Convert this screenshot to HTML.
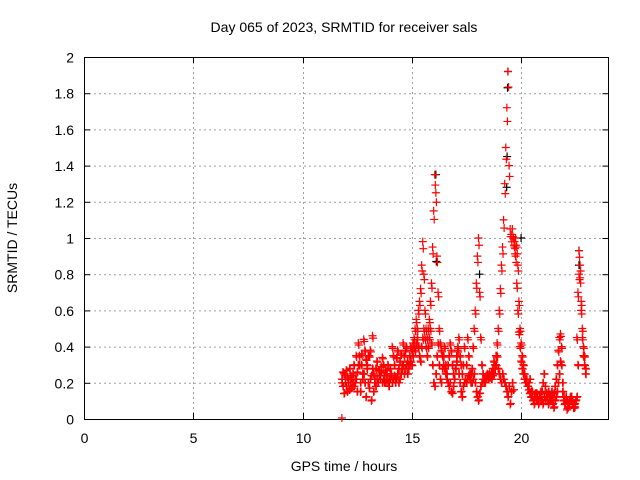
<!DOCTYPE html>
<html><head><meta charset="utf-8"><style>
body{margin:0;background:#fff;}
svg{display:block;font-family:"Liberation Sans",sans-serif;}
</style></head><body>
<svg id="chart" width="640" height="480" viewBox="0 0 640 480">
<text x="344" y="32" font-size="14" text-anchor="middle">Day 065 of 2023, SRMTID for receiver sals</text>
<text x="344" y="471" font-size="14" text-anchor="middle">GPS time / hours</text>
<text transform="translate(17,238) rotate(-90)" font-size="14" text-anchor="middle">SRMTID / TECUs</text>
<g id="grid"></g><g id="axes"></g><g id="marks"></g>
</svg>
<script>
const xTicks=[0,5,10,15,20];
const yTicks=[0,0.2,0.4,0.6,0.8,1,1.2,1.4,1.6,1.8,2];
const yTickLabels=["0","0.2","0.4","0.6","0.8","1","1.2","1.4","1.6","1.8","2"];
const startTime=11.8;
const timeStep=0.05;
const valsA=[
0.22,0.18,0.25,0.2,0.27,0.15,0.22,0.28,0.2,0.17,0.25,0.3,0.22,0.35,0.26,0.42,0.3,0.2,0.36,0.25,
0.44,0.2,0.33,0.28,0.35,0.17,0.38,0.24,0.46,0.15,0.22,0.28,0.32,0.2,0.27,0.24,0.29,0.34,0.22,0.2,
0.27,0.25,0.3,0.22,0.28,0.24,0.4,0.35,0.3,0.23,0.34,0.38,0.28,0.32,0.36,0.3,0.42,0.35,0.38,0.4,
0.32,0.3,0.35,0.4,0.38,0.42,0.45,0.5,0.55,0.5,0.6,0.65,0.72,0.85,0.98,0.8,0.6,0.5,0.45,0.5,
0.55,0.65,0.75,0.95,1.15,1.35,1.25,0.9,0.7,0.5,0.42,0.38,0.35,0.3,0.28,0.25,0.22,0.3,0.35,0.42,
0.38,0.3,0.25,0.22,0.28,0.32,0.38,0.45,0.35,0.3,0.25,0.3,0.4,0.22,0.3,0.45,0.35,0.25,0.2,0.28,
0.4,0.5,0.6,0.75,0.9,1.0,0.7,0.45,0.3,0.22,0.2,0.22,0.24,0.25,0.22,0.23,0.24,0.26,0.28,0.32,
0.3,0.35,0.42,0.5,0.6,0.72,0.85,0.95,1.1,1.3,1.5,1.72,1.92,1.4,1.05,1.02,1.05,1.0,0.95,0.9,
0.75,0.6,0.48,0.4,0.32,0.28,0.25,0.22,0.2,0.22,0.18,0.16,0.14,0.12,0.15,0.1,0.12,0.14,0.1,0.12,
0.1,0.12,0.15,0.1,0.08,0.12,0.1,0.14,0.12,0.15,0.12,0.1,0.15,0.12,0.14,0.18,0.22,0.3,0.38,0.45,
0.47,0.3,0.15,0.1,0.08,0.12,0.1,0.06,0.08,0.1,0.12,0.1,0.08,0.06,0.1,0.45,0.7,0.93,0.78,0.6,
0.5,0.4,0.35,0.28];
const valsB=[
0.2,0.26,0.14,0.24,0.18,0.23,0.2,0.16,0.24,0.22,0.2,0.18,0.2,0.22,0.15,0.3,0.35,0.15,0.3,0.22,
0.25,0.38,0.12,0.3,0.2,0.35,0.22,0.1,0.28,0.25,0.2,0.18,0.22,0.2,0.24,0.22,0.26,0.2,0.3,0.24,
0.2,0.22,0.2,0.18,0.22,0.25,0.2,0.22,0.24,0.2,0.22,0.25,0.2,0.22,0.25,0.28,0.3,0.25,0.28,0.3,
0.25,0.28,0.3,0.32,0.3,0.35,0.4,0.38,0.42,0.45,0.4,0.35,0.32,0.4,0.45,0.5,0.45,0.4,0.35,0.4,
0.45,0.5,0.42,0.3,0.2,0.18,0.25,0.35,0.42,0.3,0.22,0.2,0.28,0.35,0.4,0.3,0.25,0.2,0.18,0.2,
0.15,0.14,0.18,0.22,0.28,0.35,0.4,0.25,0.2,0.15,0.12,0.18,0.2,0.22,0.2,0.22,0.24,0.22,0.25,0.2,
0.22,0.25,0.2,0.15,0.12,0.1,0.14,0.18,0.2,0.25,0.22,0.2,0.22,0.24,0.22,0.25,0.23,0.22,0.24,0.25,
0.28,0.3,0.35,0.28,0.25,0.22,0.2,0.25,0.22,0.2,0.18,0.15,0.12,0.18,0.08,0.15,0.2,0.16,0.98,1.0,
0.95,0.85,0.65,0.5,0.42,0.35,0.3,0.25,0.22,0.2,0.18,0.2,0.22,0.15,0.12,0.1,0.08,0.12,0.14,0.1,
0.08,0.12,0.1,0.15,0.2,0.25,0.18,0.12,0.1,0.08,0.1,0.12,0.1,0.08,0.06,0.1,0.12,0.15,0.2,0.25,
0.32,0.4,0.2,0.12,0.08,0.1,0.05,0.08,0.1,0.12,0.1,0.08,0.06,0.08,0.1,0.12,0.3,0.8,0.85,0.65,
0.45,0.35,0.3,0.25];
const blackTimes=[19.4,19.38,19.36,19.34,16.1,16.12,20.0,22.65,22.65,18.1];
const blackVals=[1.92,1.83,1.45,1.28,1.35,0.87,1.0,0.93,0.85,0.8];
const X=t=>84+t*(524.5/24), Y=v=>419-v*181;
const NS="http://www.w3.org/2000/svg";
const grid=document.getElementById('grid'),axes=document.getElementById('axes'),marks=document.getElementById('marks');
function ln(p,x1,y1,x2,y2,st,w,da){const l=document.createElementNS(NS,'line');l.setAttribute('x1',x1);l.setAttribute('y1',y1);l.setAttribute('x2',x2);l.setAttribute('y2',y2);l.setAttribute('stroke',st);l.setAttribute('stroke-width',w||1);if(da)l.setAttribute('stroke-dasharray',da);p.appendChild(l);return l;}
function tx(s,x,y,a){const t=document.createElementNS(NS,'text');t.setAttribute('x',x);t.setAttribute('y',y);t.setAttribute('font-size','14');t.setAttribute('text-anchor',a);t.textContent=s;axes.appendChild(t);return t;}
yTicks.forEach((v,i)=>{const y=Y(v)+0.5;
 if(i>0&&i<yTicks.length-1){const g=ln(grid,84,y,608.5,y,'#a0a0a0',1,'2,3');
 
 }
 const tk=ln(axes,84,y,90,y,'#000');
 
 
 ln(axes,602.5,y,608.5,y,'#000');
 const t=tx(yTickLabels[i],74,y+5,'end');
 
 });
xTicks.forEach(v=>{const x=Math.round(X(v))+0.5;
 if(v>0){const g=ln(grid,x,57,x,419,'#a0a0a0',1,'2,3');
 
 }
 const tk=ln(axes,x,419,x,413,'#000');
 
 
 ln(axes,x,57,x,63,'#000');
 const t=tx(String(v),x,443,'middle');
 
 });
const fr=document.createElementNS(NS,'rect');fr.setAttribute('x',84.5);fr.setAttribute('y',57.5);fr.setAttribute('width',524);fr.setAttribute('height',362);fr.setAttribute('fill','none');fr.setAttribute('stroke','#000');


axes.appendChild(fr);
function plus(x,y,c){const p=document.createElementNS(NS,'path');p.setAttribute('d',`M${x-4},${y}H${x+4}M${x},${y-4}V${y+4}`);p.setAttribute('stroke',c);p.setAttribute('stroke-width','1.2');p.setAttribute('fill','none');marks.appendChild(p);return p;}
function seriesT(ts,vs,c,name){ts.forEach((t,i)=>{const p=plus(X(t),Y(vs[i]),c);
 
 });}
function seriesV(vs,c,name){vs.forEach((v,i)=>{const t=startTime+i*timeStep;const p=plus(X(t),Y(v),c);
 
 
 const p2=plus(X(t+0.025),Y(v*0.95+0.01),c);
 
 });}
seriesT(blackTimes,blackVals,'#000','black-point');
seriesV(valsA,'#f00','red-point');
seriesV(valsB,'#f00','red-point');
const z=plus(X(11.8),Y(0)-1,'#f00');


</script>
</body></html>
